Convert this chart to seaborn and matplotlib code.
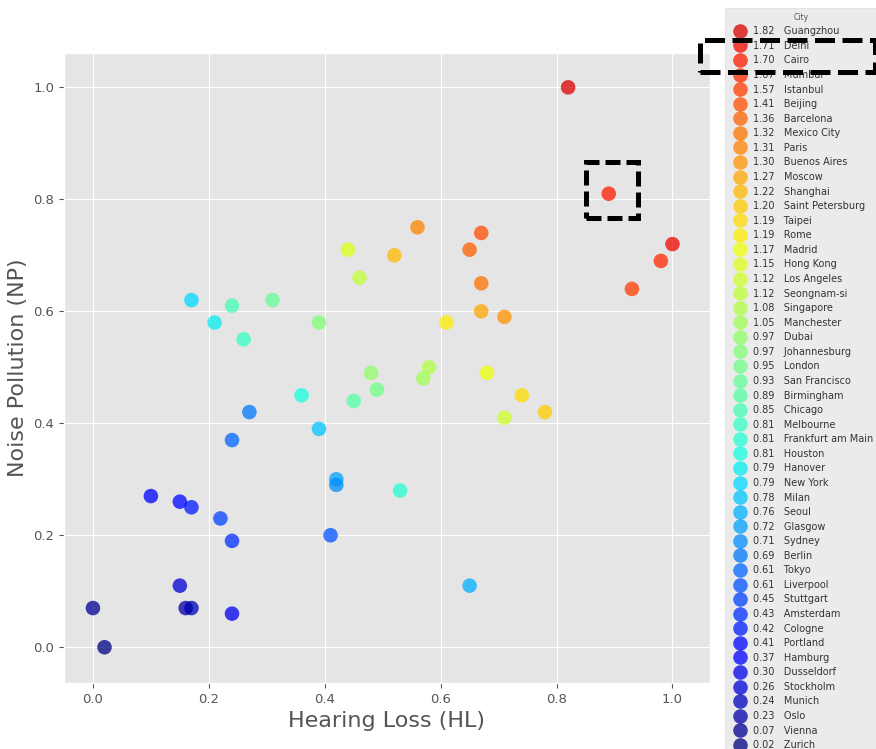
import numpy as np
import pandas as pd
import matplotlib
matplotlib.use("Agg")
import matplotlib.pyplot as plt
from matplotlib.patches import Rectangle
import seaborn as sns

# Cities in legend order (highest combined score first)
cities = ["Guangzhou", "Delhi", "Cairo", "Mumbai", "Istanbul", "Beijing", "Barcelona",
          "Mexico City", "Paris", "Buenos Aires", "Moscow", "Shanghai", "Saint Petersburg",
          "Taipei", "Rome", "Madrid", "Hong Kong", "Los Angeles", "Seongnam-si", "Singapore",
          "Manchester", "Dubai", "Johannesburg", "London", "San Francisco", "Birmingham",
          "Chicago", "Melbourne", "Frankfurt am Main", "Houston", "Hanover", "New York",
          "Milan", "Seoul", "Glasgow", "Sydney", "Berlin", "Tokyo", "Liverpool", "Stuttgart",
          "Amsterdam", "Cologne", "Portland", "Hamburg", "Dusseldorf", "Stockholm", "Munich",
          "Oslo", "Vienna", "Zurich"]
scores = [1.82, 1.71, 1.70, 1.67, 1.57, 1.41, 1.36, 1.32, 1.31, 1.30, 1.27, 1.22, 1.20,
          1.19, 1.19, 1.17, 1.15, 1.12, 1.12, 1.08, 1.05, 0.97, 0.97, 0.95, 0.93, 0.89,
          0.85, 0.81, 0.81, 0.81, 0.79, 0.79, 0.78, 0.76, 0.72, 0.71, 0.69, 0.61, 0.61,
          0.45, 0.43, 0.42, 0.41, 0.37, 0.30, 0.26, 0.24, 0.23, 0.07, 0.02]
hearing_loss = [0.82, 1.00, 0.89, 0.98, 0.93, 0.67, 0.65, 0.67, 0.56, 0.71, 0.67, 0.52, 0.78,
                0.74, 0.61, 0.68, 0.44, 0.71, 0.46, 0.58, 0.57, 0.48, 0.39, 0.49, 0.31, 0.45,
                0.24, 0.26, 0.53, 0.36, 0.21, 0.17, 0.39, 0.65, 0.42, 0.42, 0.27, 0.24, 0.41,
                0.22, 0.24, 0.17, 0.15, 0.10, 0.24, 0.15, 0.17, 0.16, 0.00, 0.02]
noise_pollution = [1.00, 0.72, 0.81, 0.69, 0.64, 0.74, 0.71, 0.65, 0.75, 0.59, 0.60, 0.70, 0.42,
                   0.45, 0.58, 0.49, 0.71, 0.41, 0.66, 0.50, 0.48, 0.49, 0.58, 0.46, 0.62, 0.44,
                   0.61, 0.55, 0.28, 0.45, 0.58, 0.62, 0.39, 0.11, 0.30, 0.29, 0.42, 0.37, 0.20,
                   0.23, 0.19, 0.25, 0.26, 0.27, 0.06, 0.11, 0.07, 0.07, 0.07, 0.00]

df = pd.DataFrame({"city": cities, "score": scores,
                   "hl": hearing_loss, "np": noise_pollution})
df["label"] = [f"{s:.2f}   {c}" for s, c in zip(df["score"], df["city"])]

# jet colours by rank, red at the top of the legend, navy at the bottom
colors = plt.get_cmap("jet")(np.linspace(0.92, 0.0, len(df)))

plt.style.use("ggplot")
fig = plt.figure(figsize=(8.76, 7.49), dpi=100)
ax = fig.add_axes([0.073, 0.088, 0.737, 0.841])

sns.scatterplot(data=df, x="hl", y="np", hue="label", hue_order=list(df["label"]),
                palette=list(colors), s=110, alpha=0.75, edgecolor="none", ax=ax)

ax.set_xlim(-0.05, 1.064)
ax.set_ylim(-0.064, 1.061)
ax.set_xticks([0.0, 0.2, 0.4, 0.6, 0.8, 1.0])
ax.set_yticks([0.0, 0.2, 0.4, 0.6, 0.8, 1.0])
ax.tick_params(labelsize=9.5, colors="#555555")
ax.set_xlabel("Hearing Loss (HL)", fontsize=16, color="#555555")
ax.set_ylabel("Noise Pollution (NP)", fontsize=16, color="#555555")

handles, labels = ax.get_legend_handles_labels()
ax.get_legend().remove()
leg = fig.legend(handles, labels, title="City", loc="upper left",
                 bbox_to_anchor=(0.822, 0.996), bbox_transform=fig.transFigure,
                 fontsize=7, title_fontsize=5.5, labelspacing=0.47,
                 handletextpad=0.4, borderpad=0.5, markerscale=1.0,
                 frameon=True, facecolor="#EBEBEB", edgecolor="#DDDDDD", framealpha=1)
for t in leg.get_texts():
    t.set_color("#333333")
leg.get_title().set_color("#555555")

# dashed highlight boxes
ax.add_patch(Rectangle((0.85, 0.766), 0.09, 0.10, fill=False, ec="black",
                       lw=3.6, ls=(0, (3, 1.2)), zorder=5, clip_on=False))
fig.add_artist(Rectangle((0.799, 0.904), 0.2, 0.043, transform=fig.transFigure,
                         fill=False, ec="black", lw=3.6, ls=(0, (4, 1.5)), zorder=10))

fig.savefig("out.png", dpi=100)
